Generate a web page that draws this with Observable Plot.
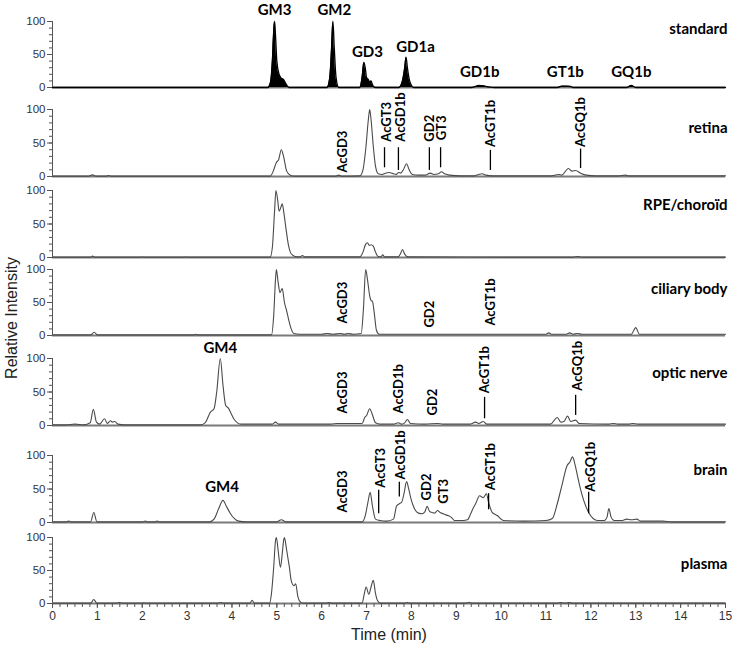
<!DOCTYPE html>
<html><head><meta charset="utf-8">
<script src="https://cdn.jsdelivr.net/npm/d3@7"></script>
<script src="https://cdn.jsdelivr.net/npm/@observablehq/plot@0.6"></script>
<style>
body{margin:0;background:#fff;}
#chart{position:relative;width:733px;height:646px;overflow:hidden;background:#fff;}
#chart svg{position:absolute;left:0;overflow:visible;}
#ylab{position:absolute;left:12px;top:318px;transform:translate(-50%,-50%) rotate(-90deg);font:16px "Liberation Sans",Arial,sans-serif;color:#222;white-space:nowrap;}
</style></head>
<body><div id="chart"><div id="ylab">Relative Intensity</div></div>
<script>
// ---- data: [time (min), relative intensity] ----
const standard = [[0,0],[4.8,0],[4.86,8],[4.9,40],[4.93,85],[4.95,100],[4.97,80],[5.0,40],[5.05,20],[5.1,14],[5.15,12],[5.2,6],[5.27,0],
[6.12,0],[6.18,15],[6.22,60],[6.25,100],[6.28,60],[6.32,15],[6.38,0],
[6.85,0],[6.9,15],[6.94,38],[6.97,30],[7.0,15],[7.04,12],[7.07,8],[7.1,10],[7.14,3],[7.2,0],
[7.72,0],[7.8,10],[7.85,30],[7.88,46],[7.91,30],[7.96,10],[8.05,0],
[9.35,0],[9.45,2],[9.5,3],[9.6,2.5],[9.75,0.5],[9.85,0],
[11.25,0],[11.35,2],[11.45,2],[11.55,1.5],[11.6,0],
[12.8,0],[12.9,3],[13.0,0],[15,0]];
const retina = [[0,0.5],[0.8,0.5],[0.89,2.5],[0.97,0.5],[1.2,0.5],[1.25,1.5],[1.3,0.5],[4.85,0.5],[4.92,8],[4.99,21],[5.04,25],[5.1,40],[5.15,30],[5.22,8],[5.3,2],[5.4,0.5],[6.3,0.5],[6.38,2],[6.45,0.5],[6.85,1],[6.92,10],[6.98,40],[7.04,85],[7.07,100],[7.1,85],[7.15,45],[7.2,15],[7.26,4],[7.35,3],[7.42,5],[7.5,6],[7.6,4],[7.66,3],[7.72,6],[7.76,5],[7.82,10],[7.89,19],[7.95,10],[8.02,3],[8.15,2],[8.3,2],[8.42,5],[8.5,3],[8.6,4],[8.67,7],[8.74,4],[8.85,2],[9.1,1],[9.4,1],[9.5,3],[9.58,4],[9.66,2],[9.8,1],[10.3,1],[11.1,1],[11.28,3],[11.35,2],[11.5,12],[11.58,8],[11.66,9],[11.77,5],[11.9,2],[12.1,1],[12.6,1],[12.77,2],[12.85,1],[15,1]];
const rpe = [[0,0.5],[0.85,0.5],[0.89,2],[0.95,0.5],[1.95,0.5],[2.0,1],[2.05,0.5],[2.92,0.5],[2.96,1],[3.0,0.5],[4.85,0.5],[4.9,15],[4.95,70],[4.98,100],[5.02,85],[5.05,69],[5.09,75],[5.12,80],[5.16,65],[5.21,40],[5.26,18],[5.3,8],[5.36,3],[5.45,1],[5.52,1],[5.57,3],[5.62,1],[6.85,1],[6.92,8],[6.98,20],[7.02,22],[7.06,18],[7.1,19],[7.15,17],[7.2,8],[7.25,2],[7.32,1],[7.36,4],[7.4,1],[7.7,1],[7.76,6],[7.8,12],[7.85,5],[7.92,1],[11.6,0.5],[11.7,1.5],[11.8,0.5],[15,0.5]];
const ciliary = [[0,1],[0.85,1],[0.93,5],[1.0,1],[3.15,1],[3.19,2],[3.23,1],[4.88,1],[4.93,30],[4.97,85],[4.99,100],[5.03,80],[5.07,65],[5.12,71],[5.17,50],[5.22,37],[5.27,22],[5.32,10],[5.38,3],[5.5,2],[5.6,2],[6.0,2],[6.12,3],[6.25,2],[6.42,3],[6.5,2],[6.6,3],[6.7,2],[6.88,3],[6.93,40],[6.98,100],[7.02,85],[7.07,60],[7.1,53],[7.13,52],[7.17,35],[7.22,8],[7.28,2],[7.5,2],[8.0,2],[9.0,2],[10.0,2],[11.0,2],[11.06,4],[11.12,2],[11.45,2],[11.53,4],[11.6,2],[11.7,3],[11.8,2],[12.9,2],[13.0,12],[13.08,2],[13.95,2],[14.5,2],[15,2]];
const optic = [[0,1],[0.3,1],[0.5,2],[0.7,1],[0.84,4],[0.91,24],[0.98,5],[1.05,2],[1.16,10],[1.22,3],[1.29,7],[1.34,5],[1.39,6],[1.46,2],[1.6,1],[3.3,1],[3.4,4],[3.52,20],[3.6,25],[3.66,50],[3.74,100],[3.8,60],[3.86,30],[3.92,26],[3.98,18],[4.04,10],[4.12,4],[4.2,2],[4.5,2],[4.9,2],[4.97,5],[5.04,2],[6.2,2],[6.35,3],[6.5,3],[6.9,3],[6.96,12],[7.0,15],[7.07,25],[7.12,18],[7.2,4],[7.3,2],[7.6,2],[7.71,4],[7.78,2],[7.85,4],[7.91,9],[7.98,3],[8.3,2],[8.58,3],[8.7,2],[9.3,2],[9.43,5],[9.5,3],[9.6,6],[9.68,2],[11.1,2],[11.25,12],[11.33,5],[11.4,6],[11.48,14],[11.55,6],[11.66,8],[11.74,3],[12.4,2],[12.5,3],[12.6,2],[12.85,2],[12.93,3],[13.05,2],[15,2]];
const brain = [[0,1],[0.3,1],[0.36,2],[0.42,1],[0.85,1],[0.92,15],[0.99,1],[2.0,1],[2.07,2],[2.12,1],[2.28,1],[2.33,2],[2.4,1],[3.5,1],[3.6,5],[3.7,20],[3.8,33],[3.87,25],[3.95,15],[4.05,6],[4.15,2],[4.3,1],[5.0,1],[5.1,4],[5.2,1],[6.9,1],[6.97,10],[7.03,30],[7.08,45],[7.13,25],[7.2,5],[7.3,3],[7.45,2],[7.6,5],[7.67,25],[7.73,28],[7.78,30],[7.84,45],[7.89,61],[7.94,50],[7.98,38],[8.04,25],[8.09,18],[8.16,14],[8.24,13],[8.3,16],[8.35,24],[8.41,16],[8.46,15],[8.52,14],[8.58,18],[8.64,15],[8.71,13],[8.78,11],[8.83,10],[8.9,7],[8.96,3],[9.05,3],[9.15,3],[9.25,4],[9.32,13],[9.38,22],[9.43,28],[9.52,40],[9.6,37],[9.67,43],[9.72,30],[9.8,15],[9.87,12],[9.92,10],[9.98,6],[10.05,3],[10.5,2],[11.0,3],[11.14,6],[11.25,28],[11.36,57],[11.47,85],[11.53,90],[11.59,98],[11.64,88],[11.7,70],[11.76,52],[11.84,33],[11.95,15],[12.05,6],[12.15,3],[12.3,3],[12.36,8],[12.4,21],[12.45,8],[12.52,3],[12.7,3],[12.8,5],[12.9,4],[13.03,5],[13.1,2],[13.3,2],[13.6,2],[13.8,1],[15,1]];
const plasma = [[0,0.5],[0.85,0.5],[0.92,6],[0.99,0.5],[1.43,0.5],[1.48,1.5],[1.55,0.5],[1.98,0.5],[2.03,1],[2.1,0.5],[3.69,0.5],[3.74,1.5],[3.8,0.5],[4.4,0.5],[4.45,5],[4.5,0.5],[4.84,0.5],[4.88,15],[4.93,55],[4.97,95],[4.99,100],[5.03,80],[5.08,55],[5.12,75],[5.15,95],[5.17,100],[5.21,85],[5.24,72],[5.28,55],[5.32,35],[5.38,27],[5.42,30],[5.47,10],[5.53,2],[5.6,0.5],[6.1,0.5],[6.16,1.5],[6.22,0.5],[6.9,0.5],[6.95,15],[6.99,25],[7.05,14],[7.1,25],[7.15,35],[7.2,15],[7.24,5],[7.31,0.5],[7.85,0.5],[7.9,1.5],[7.96,0.5],[9.22,0.5],[9.28,2],[9.35,0.5],[11.26,0.5],[11.32,1.5],[11.4,0.5],[11.45,0.5],[11.5,1.5],[11.6,0.5],[15,0.5]];

// ---- labels: [text, time, intensity] ----
const standardLabels = [["GM3",4.95,117],["GM2",6.28,117],["GD3",7.02,53],["GD1a",8.09,61],["GD1b",9.52,23],["GT1b",11.43,23],["GQ1b",12.9,23]];
const opticHLabels = [["GM4",3.74,115]];
const brainHLabels = [["GM4",3.78,52]];
// rotated labels: [text, time, intensity at text start]
const retinaVLabels = [["AcGD3",6.46,6],["AcGT3",7.45,52],["AcGD1b",7.77,52],["GD2",8.41,52],["GT3",8.68,54],["AcGT1b",9.77,44],["AcGQ1b",11.78,44]];
const ciliaryVLabels = [["AcGD3",6.46,18],["GD2",8.4,12],["AcGT1b",9.78,15]];
const opticVLabels = [["AcGD3",6.46,18],["AcGD1b",7.73,18],["GD2",8.47,15],["AcGT1b",9.63,48],["AcGQ1b",11.7,52]];
const brainVLabels = [["AcGD3",6.46,15],["AcGT3",7.31,52],["AcGD1b",7.77,64],["GD2",8.35,33],["GT3",8.72,28],["AcGT1b",9.76,48],["AcGQ1b",11.99,46]];
// leader lines: [time, from, to]
const retinaLines = [[7.40,43,13],[7.71,43,9],[8.40,43,9],[8.65,43,13],[9.76,39,9],[11.77,41,12]];
const opticLines = [[9.63,42,10],[11.66,45,15]];
const brainLines = [[7.27,48,13],[7.73,60,38],[9.72,43,19],[11.95,45,13]];
const panelNames = ["standard","retina","RPE/choroïd","ciliary body","optic nerve","brain","plasma"];
const panelNameY = [88,72,78,70,78,78,60];
const xTicks = d3.range(0,16);
const yTicks = [0,50,100];

// ---- layout ----
const layout = [
  {data: standard, y100:21, y0:87, h: standardLabels, filled:true},
  {data: retina, y100:109, y0:176, v: retinaVLabels, lines: retinaLines},
  {data: rpe, y100:190, y0:257},
  {data: ciliary, y100:269, y0:335, v: ciliaryVLabels},
  {data: optic, y100:358, y0:425, h: opticHLabels, v: opticVLabels, lines: opticLines},
  {data: brain, y100:455, y0:522, h: brainHLabels, v: brainVLabels, lines: brainLines},
  {data: plasma, y100:537, y0:603}
];
const LBL = "Lato, 'Open Sans', sans-serif";
const chart = document.getElementById("chart");
layout.forEach((p, i) => {
  const last = i === layout.length - 1;
  const mt = 20, mb = last ? 646 - p.y0 : 4;
  const height = mt + (p.y0 - p.y100) + mb;
  const pts = p.data.map(([t, v]) => ({t, v}));
  const marks = [
    Plot.axisY({ticks: d3.range(0,101,10), tickSize:3, tickFormat: () => "", label:null, stroke:"#555"}),
    Plot.axisY({ticks: yTicks, tickSize:5, tickPadding:2, label:null, stroke:"#555", fill:"#333", fontSize:11.5}),
    Plot.ruleX([0], {stroke:"#555"}),
    Plot.ruleY([0], {stroke:"#7a7a7a", strokeWidth:2})
  ];
  if (p.filled) {
    marks.push(Plot.areaY(pts, {x:"t", y:"v", fill:"#000", curve:"monotone-x"}));
    marks.push(Plot.lineY(pts, {x:"t", y:"v", stroke:"#000", strokeWidth:1.3, curve:"monotone-x"}));
  } else {
    marks.push(Plot.lineY(pts, {x:"t", y:"v", stroke:"#4a4a4a", strokeWidth:1.1, curve:"monotone-x"}));
  }
  if (p.h) marks.push(Plot.text(p.h.map(([s,t,v]) => ({s,t,v})), {x:"t", y:"v", text:"s", fontFamily:LBL, fontWeight:"bold", fontSize:15, fill:"#000", lineAnchor:"middle"}));
  if (p.v) marks.push(Plot.text(p.v.map(([s,t,v]) => ({s,t,v})), {x:"t", y:"v", text:"s", rotate:-90, textAnchor:"start", lineAnchor:"middle", fontFamily:LBL, fontWeight:"bold", fontSize:13, fill:"#000"}));
  if (p.lines) marks.push(Plot.ruleX(p.lines.map(([t,a,b]) => ({t,a,b})), {x:"t", y1:"a", y2:"b", stroke:"#000", strokeWidth:1.3}));
  marks.push(Plot.text([panelNames[i]], {x:15, y:panelNameY[i], text:d => d, textAnchor:"end", dx:2, lineAnchor:"middle", fontFamily:LBL, fontWeight:"bold", fontSize:15, fill:"#000"}));
  if (last) {
    marks.push(Plot.axisX({ticks: d3.range(0,91).map(k => k/6), tickSize:4, tickFormat: () => "", label:null, stroke:"#555"}));
    marks.push(Plot.axisX({ticks: xTicks, tickSize:5, tickPadding:3, label:null, stroke:"#555", fill:"#333", fontSize:12}));
    marks.push(Plot.text(["Time (min)"], {frameAnchor:"bottom", dy:31, text:d => d, fontFamily:"'Liberation Sans', Arial, sans-serif", fontSize:16, fill:"#222", lineAnchor:"middle"}));
  }
  const svg = Plot.plot({
    width:733, height, marginLeft:52, marginRight:8, marginTop:mt, marginBottom:mb,
    style:{background:"transparent", overflow:"visible", fontFamily:"'Liberation Sans', Arial, sans-serif", fontSize:"12px", color:"#333"},
    x:{domain:[0,15], axis:null}, y:{domain:[0,100], axis:null},
    marks
  });
  svg.style.top = (p.y100 - mt) + "px";
  chart.appendChild(svg);
});
</script>
</body></html>
